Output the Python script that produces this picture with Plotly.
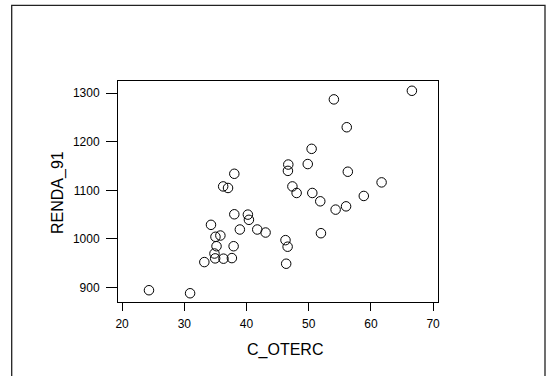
import plotly.graph_objects as go

# C_OTERC vs RENDA_91 scatter
c_oterc = [24.32, 30.93, 33.22, 34.29, 35.01, 35.80, 35.18, 34.85, 34.96, 36.30,
           37.65, 37.93, 38.04, 38.04, 36.25, 37.03, 38.93, 40.22, 40.39, 41.73,
           43.07, 46.27, 46.61, 46.38, 46.72, 46.66, 47.38, 48.06, 49.85, 50.47,
           50.58, 51.86, 51.97, 54.05, 54.33, 56.12, 56.29, 56.01, 58.86, 61.72,
           66.59]
renda_91 = [894.5, 888.3, 952.4, 1029.0, 1004.4, 1007.0, 985.0, 970.0, 960.0, 959.4,
            960.6, 985.0, 1050.7, 1134.0, 1108.0, 1104.8, 1019.4, 1050.0, 1039.3, 1019.4,
            1013.2, 997.5, 984.0, 949.0, 1153.0, 1140.0, 1108.0, 1094.5, 1154.0, 1185.3,
            1094.5, 1077.4, 1011.8, 1287.0, 1060.3, 1229.7, 1138.2, 1067.0, 1088.4, 1116.3,
            1304.7]

x_ticks = [20, 30, 40, 50, 60, 70]
y_ticks = [900, 1000, 1100, 1200, 1300]

FONT = "Liberation Sans, Arial, sans-serif"

fig = go.Figure(
    go.Scatter(
        x=c_oterc, y=renda_91, mode="markers",
        marker=dict(symbol="circle-open", size=9.5, color="black", line=dict(width=1, color="black")),
        hoverinfo="x+y",
    )
)

L, R, T, B = 118, 108, 81, 74
W, H = 546, 376
pw, ph = W - L - R, H - T - B


def px_x(p):
    return (p - L) / pw


def px_y(p):
    return (H - B - p) / ph


fig.update_layout(
    width=W, height=H,
    margin=dict(l=L, r=R, t=T, b=B, pad=0),
    paper_bgcolor="white", plot_bgcolor="white",
    showlegend=False,
    font=dict(family=FONT, color="black", size=12),
    xaxis=dict(
        range=[19.34, 70.79], tickvals=x_ticks, ticktext=[str(v) for v in x_ticks],
        showgrid=False, zeroline=False, showline=True, linecolor="black", linewidth=1,
        mirror=True, ticks="outside", ticklen=8, tickwidth=1, tickcolor="black",
        tickfont=dict(size=12, family=FONT), ticklabelstandoff=3,
    ),
    yaxis=dict(
        range=[870.3, 1324.8], tickvals=y_ticks, ticktext=[str(v) for v in y_ticks],
        showgrid=False, zeroline=False, showline=True, linecolor="black", linewidth=1,
        mirror=True, ticks="outside", ticklen=11, tickwidth=1, tickcolor="black",
        tickfont=dict(size=12, family=FONT), ticklabelstandoff=4,
    ),
    annotations=[
        dict(text="C_OTERC", x=px_x(285), y=px_y(350), xref="paper", yref="paper",
             showarrow=False, xanchor="center", yanchor="middle",
             font=dict(size=16, family=FONT, color="black")),
        dict(text="RENDA_91", x=px_x(57.5), y=px_y(192.5), xref="paper", yref="paper",
             showarrow=False, xanchor="center", yanchor="middle", textangle=-90,
             font=dict(size=16, family=FONT, color="black")),
    ],
    shapes=[
        dict(type="path", xref="paper", yref="paper",
             path=f"M {px_x(11.7)} {px_y(380)} L {px_x(11.7)} {px_y(5.3)} "
                  f"L {px_x(545)} {px_y(5.3)} L {px_x(545)} {px_y(380)}",
             line=dict(color="#222222", width=1.3)),
    ],
)

fig.write_html("out.html")
